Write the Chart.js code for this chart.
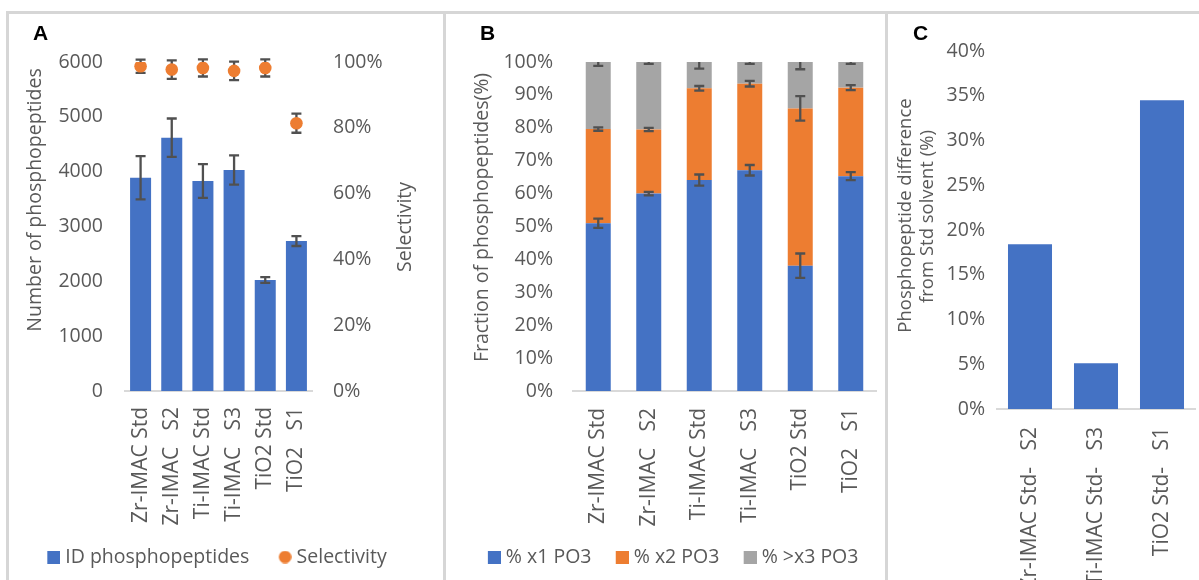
<!DOCTYPE html>
<html><head><meta charset="utf-8">
<script src="https://cdn.jsdelivr.net/npm/chart.js@4.4.0/dist/chart.umd.min.js"></script>
<style>
html,body{margin:0;padding:0;background:#fff}
body{position:relative;width:1199px;height:580px;overflow:hidden}
.line{position:absolute;background:#d6d6d6}
canvas{position:absolute}
</style></head><body>
<div class="line" style="left:6px;top:11px;width:1193px;height:3px"></div>
<div class="line" style="left:6px;top:11px;width:3px;height:569px"></div>
<div class="line" style="left:443px;top:11px;width:3px;height:569px"></div>
<div class="line" style="left:885px;top:11px;width:3px;height:569px"></div>
<canvas id="chartA" width="434" height="566" style="left:9px;top:14px"></canvas>
<canvas id="chartB" width="439" height="566" style="left:446px;top:14px"></canvas>
<canvas id="chartC" width="311" height="566" style="left:888px;top:14px"></canvas>
<script>
// ---------- data ----------
const categoriesAB = ['Zr-IMAC Std', 'Zr-IMAC   S2', 'Ti-IMAC Std', 'Ti-IMAC   S3', 'TiO2 Std', 'TiO2   S1'];
const idPhosphopeptides = [3890, 4620, 3830, 4030, 2025, 2735];
const idPhosphopeptidesErr = [395, 350, 307, 267, 52, 91];
const selectivity = [98.7, 97.7, 98.2, 97.3, 98.2, 81.4];
const selectivityErr = [2.0, 2.8, 2.6, 2.8, 2.6, 2.9];

const pctX1 = [51.0, 60.0, 64.1, 67.1, 38.1, 65.3];
const pctX1Err = [1.4, 0.55, 1.7, 1.6, 3.7, 1.2];
const pctX2 = [28.6, 19.5, 27.9, 26.3, 47.8, 26.9];
const pctX2Err = [0.5, 0.5, 0.7, 0.85, 3.7, 0.75];
const pctX3 = [20.4, 20.5, 8.0, 6.6, 14.1, 7.8];
const pctX3Err = [1.2, 0.6, 2.0, 0.6, 2.2, 0.6];

const categoriesC = ['Zr-IMAC Std-   S2', 'Ti-IMAC Std-   S3', 'TiO2 Std-   S1'];
const diffFromStd = [18.4, 5.1, 34.5];

const axisA = [0, 6000, 1000];   // min, max, step
const axisA2 = [0, 100, 20];
const axisB = [0, 100, 10];
const axisC = [0, 40, 5];

// ---------- style ----------
const BLUE = '#4472C4', ORANGE = '#ED7D31', GRAY = '#A5A5A5';
const TXT = '#595959', AXIS = '#d9d9d9', ERR = '#505050';
const FS = 19.5, FSX = 21;
Chart.defaults.font.family = "'Open Sans', sans-serif";
Chart.defaults.font.size = FS;
Chart.defaults.color = TXT;

function cumulative(...arrs) {
  return arrs[0].map((_, i) => arrs.reduce((s, a) => s + a[i], 0));
}

// legend marker: transparent margin on the left, 13px marker on the right
function swatch(color, shape, w) {
  const c = document.createElement('canvas');
  c.width = w; c.height = 13;
  const g = c.getContext('2d');
  g.fillStyle = color;
  if (shape === 'circle') { g.beginPath(); g.arc(w - 6.5, 6.5, 6.3, 0, Math.PI * 2); g.fill(); }
  else g.fillRect(w - 13, 0, 13, 13);
  return c;
}

function drawErr(chart, spec) {
  const ctx = chart.ctx, meta = chart.getDatasetMeta(spec.ds), sc = chart.scales[spec.axis];
  const ca = chart.chartArea;
  ctx.save();
  if (spec.clip) { ctx.beginPath(); ctx.rect(ca.left, ca.top, ca.right - ca.left, ca.bottom - ca.top); ctx.clip(); }
  ctx.strokeStyle = ERR; ctx.lineWidth = 2.3;
  spec.vals.forEach((v, i) => {
    const x = meta.data[i].x;
    const y1 = sc.getPixelForValue(v + spec.errs[i]);
    const y2 = sc.getPixelForValue(v - spec.errs[i]);
    ctx.beginPath();
    ctx.moveTo(x, y1); ctx.lineTo(x, y2);
    ctx.moveTo(x - 5, y1); ctx.lineTo(x + 5, y1);
    ctx.moveTo(x - 5, y2); ctx.lineTo(x + 5, y2);
    ctx.stroke();
  });
  ctx.restore();
}

const errorBars = {
  id: 'errorBars',
  beforeDatasetDraw(chart, args, opts) {
    (opts.specs || []).filter(s => s.under && s.ds === args.index).forEach(s => drawErr(chart, s));
  },
  afterDatasetsDraw(chart, args, opts) {
    (opts.specs || []).filter(s => !s.under).forEach(s => drawErr(chart, s));
  }
};

const deco = {
  id: 'deco',
  afterDraw(chart, args, o) {
    const ctx = chart.ctx;
    ctx.save();
    ctx.fillStyle = '#000';
    ctx.font = "bold 21px 'Liberation Sans', Arial, sans-serif";
    ctx.textBaseline = 'alphabetic';
    ctx.textAlign = 'left';
    ctx.fillText(o.letter[0], o.letter[1], o.letter[2]);
    ctx.fillStyle = TXT;
    ctx.textAlign = 'center';
    ctx.textBaseline = 'middle';
    (o.titles || []).forEach(t => {
      ctx.save();
      ctx.font = (t.size || FS) + "px 'Open Sans', sans-serif";
      ctx.translate(t.x, t.y);
      ctx.rotate(-Math.PI / 2);
      ctx.fillText(t.text, 0, 0);
      ctx.restore();
    });
    ctx.restore();
  }
};

function legendOpts(items, psw) {
  const w = psw + 9.5;
  return {
    position: 'bottom',
    labels: {
      usePointStyle: true, pointStyleWidth: psw, boxWidth: psw, boxHeight: 13, padding: 8, color: TXT,
      font: { size: FS },
      generateLabels: () => items.map((it, i) => ({
        text: it[0], pointStyle: swatch(it[1], it[2], w), fillStyle: it[1], strokeStyle: it[1],
        lineWidth: 0, hidden: false, datasetIndex: i, fontColor: TXT
      }))
    }
  };
}

const xCommon = (h, pad) => ({
  grid: { display: false, drawTicks: false },
  border: { display: true, color: AXIS, width: 2 },
  ticks: { color: TXT, font: { size: FSX }, maxRotation: 90, minRotation: 90, autoSkip: false, padding: pad },
  afterFit(s) { s.height = h; s.paddingLeft = 0; s.paddingRight = 0; }
});
const yCommon = (ax, pos, w, pad, pct) => ({
  position: pos, min: ax[0], max: ax[1],
  grid: { display: false, drawTicks: false },
  border: { display: false },
  ticks: { stepSize: ax[2], color: TXT, font: { size: FS }, padding: pad, callback: v => pct ? v + '%' : v },
  afterFit(s) { s.width = w; }
});

// ---------- Chart A ----------
new Chart(document.getElementById('chartA'), {
  type: 'bar',
  data: {
    labels: categoriesAB,
    datasets: [
      { type: 'bar', label: 'ID phosphopeptides', data: idPhosphopeptides, backgroundColor: BLUE,
        yAxisID: 'y', barPercentage: 0.674, categoryPercentage: 1, order: 1 },
      { type: 'line', label: 'Selectivity', data: selectivity, yAxisID: 'y1', showLine: false,
        pointRadius: 6.3, pointBackgroundColor: ORANGE, pointBorderWidth: 0, borderColor: ORANGE,
        backgroundColor: ORANGE, order: 0 }
    ]
  },
  options: {
    responsive: false, animation: false, events: [],
    layout: { padding: { left: 0, right: 39.3, top: 48, bottom: 3.25 } },
    plugins: {
      legend: legendOpts([['ID phosphopeptides', BLUE, 'rect'], ['Selectivity', ORANGE, 'circle']], 29.5),
      tooltip: { enabled: false },
      errorBars: { specs: [
        { ds: 0, axis: 'y', vals: idPhosphopeptides, errs: idPhosphopeptidesErr },
        { ds: 1, axis: 'y1', vals: selectivity, errs: selectivityErr, under: true }
      ] },
      deco: { letter: ['A', 24, 26], titles: [
        { text: 'Number of phosphopeptides', x: 26, y: 186 },
        { text: 'Selectivity', x: 396, y: 213 }
      ] }
    },
    scales: {
      x: xCommon(148.25, 16),
      y: yCommon(axisA, 'left', 116, 22, false),
      y1: yCommon(axisA2, 'right', 91.7, 21, true)
    }
  },
  plugins: [errorBars, deco]
});

// ---------- Chart B ----------
const cumB1 = pctX1, cumB2 = cumulative(pctX1, pctX2), cumB3 = cumulative(pctX1, pctX2, pctX3);
const xB = xCommon(148.25, 17); xB.stacked = true;
const yB = yCommon(axisB, 'left', 119, 20, true); yB.stacked = true;
new Chart(document.getElementById('chartB'), {
  type: 'bar',
  data: {
    labels: categoriesAB,
    datasets: [
      { label: '% x1 PO3', data: pctX1, backgroundColor: BLUE, barPercentage: 0.495, categoryPercentage: 1 },
      { label: '% x2 PO3', data: pctX2, backgroundColor: ORANGE, barPercentage: 0.495, categoryPercentage: 1 },
      { label: '% >x3 PO3', data: pctX3, backgroundColor: GRAY, barPercentage: 0.495, categoryPercentage: 1 }
    ]
  },
  options: {
    responsive: false, animation: false, events: [],
    layout: { padding: { left: 8, right: 9, top: 48, bottom: 3.25 } },
    plugins: {
      legend: legendOpts([['% x1 PO3', BLUE, 'rect'], ['% x2 PO3', ORANGE, 'rect'], ['% >x3 PO3', GRAY, 'rect']], 24.5),
      tooltip: { enabled: false },
      errorBars: { specs: [
        { ds: 0, axis: 'y', vals: cumB1, errs: pctX1Err, clip: true },
        { ds: 1, axis: 'y', vals: cumB2, errs: pctX2Err, clip: true },
        { ds: 2, axis: 'y', vals: cumB3, errs: pctX3Err, clip: true }
      ] },
      deco: { letter: ['B', 34, 26], titles: [
        { text: 'Fraction of phosphopeptides(%)', x: 36, y: 203.5 }
      ] }
    },
    scales: { x: xB, y: yB }
  },
  plugins: [errorBars, deco]
});

// ---------- Chart C ----------
new Chart(document.getElementById('chartC'), {
  type: 'bar',
  data: {
    labels: categoriesC,
    datasets: [
      { label: 'Difference', data: diffFromStd, backgroundColor: BLUE, barPercentage: 0.667, categoryPercentage: 1 }
    ]
  },
  options: {
    responsive: false, animation: false, events: [],
    layout: { padding: { left: 0, right: 4, top: 37, bottom: 0 } },
    plugins: {
      legend: { display: false },
      tooltip: { enabled: false },
      deco: { letter: ['C', 25, 26], titles: [
        { text: 'Phosphopeptide difference', x: 18, y: 201.5, size: 18.5 },
        { text: 'from Std solvent (%)', x: 40, y: 202.5, size: 18.5 }
      ] }
    },
    scales: {
      x: xCommon(171, 18),
      y: yCommon(axisC, 'left', 109, 12, true)
    }
  },
  plugins: [deco]
});
</script>
</body></html>
